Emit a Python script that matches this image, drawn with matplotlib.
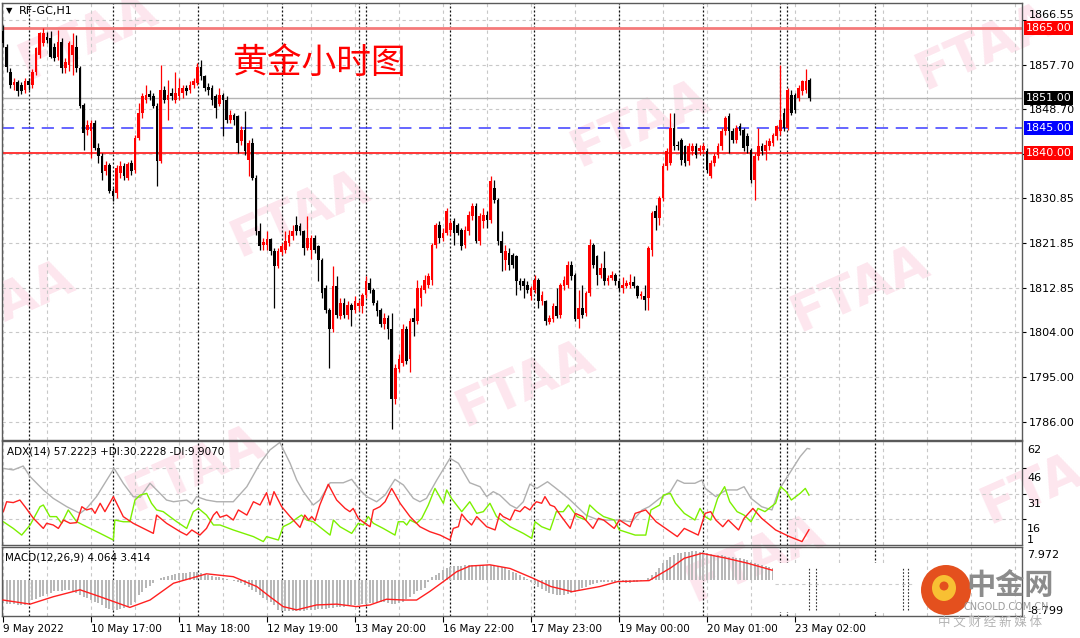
import matplotlib.pyplot as plt
from matplotlib.patches import Rectangle, Ellipse

W, H = 1080, 638

# ---- price data (H1 bars, RF-GC) ----
opens = [
    1864.5, 1861.3, 1856.3, 1853.6, 1854.1, 1853.6, 1852.6, 1854.3, 1853.6, 1856.3,
    1859.6, 1862.0, 1863.3, 1863.0, 1861.3, 1859.3, 1862.3, 1857.0, 1857.6, 1859.6,
    1861.3, 1857.0, 1849.6, 1844.6, 1844.3, 1846.0, 1841.0, 1839.3, 1836.3, 1837.6,
    1832.3, 1832.0, 1836.0, 1837.3, 1835.0, 1838.0, 1836.6, 1843.0, 1848.0, 1850.6,
    1851.8, 1851.3, 1849.3, 1838.3, 1852.6, 1850.6, 1852.0, 1850.6, 1851.3, 1852.0,
    1853.0, 1852.6, 1853.6, 1854.0, 1857.3, 1855.3, 1853.2, 1853.0, 1851.3, 1849.8,
    1851.6, 1850.6, 1846.6, 1847.6, 1847.3, 1842.3, 1844.6, 1838.6, 1842.0, 1835.0,
    1824.3, 1821.6, 1821.6, 1822.7, 1820.3, 1817.3, 1820.1, 1820.6, 1821.9, 1823.3,
    1825.6, 1825.3, 1824.3, 1820.9, 1820.6, 1823.0, 1821.3, 1818.6, 1812.9, 1808.6,
    1804.6, 1813.3, 1807.3, 1810.0, 1807.6, 1809.6, 1808.6, 1809.3, 1809.3, 1811.6,
    1814.0, 1812.6, 1810.0, 1808.6, 1805.6, 1807.0, 1804.6, 1790.6, 1796.6, 1797.9,
    1804.6, 1798.6, 1807.0, 1806.3, 1811.0, 1812.6, 1813.6, 1814.6, 1821.6, 1825.6,
    1823.0, 1824.0, 1824.6, 1826.3, 1825.6, 1824.6, 1821.6, 1824.3, 1827.3, 1829.3,
    1822.3, 1826.3, 1827.6, 1826.6, 1833.0, 1830.6, 1822.3, 1818.6, 1819.9, 1819.6,
    1819.3, 1814.3, 1814.3, 1813.6, 1811.3, 1812.6, 1814.6, 1810.3, 1810.3, 1806.0,
    1806.6, 1809.3, 1807.6, 1813.3, 1813.6, 1817.6, 1815.6, 1806.6, 1808.9, 1807.9,
    1811.9, 1821.6, 1819.3, 1815.6, 1816.9, 1814.3, 1814.9, 1815.6, 1814.3, 1812.9,
    1813.4, 1813.6, 1814.1, 1813.3, 1811.3, 1811.4, 1810.9, 1820.6, 1828.3, 1826.9,
    1830.9, 1837.3, 1838.0, 1844.9, 1841.6, 1842.6, 1841.3, 1838.3, 1840.3, 1841.3,
    1840.3, 1840.6, 1840.3, 1835.3, 1837.9, 1839.6, 1841.3, 1844.3, 1847.3, 1844.3,
    1842.6, 1845.3, 1844.6, 1843.3, 1840.6, 1834.6, 1839.3, 1841.3, 1840.3, 1841.3,
    1841.9, 1843.3, 1844.3, 1847.9, 1845.0, 1851.6, 1851.6, 1850.9, 1852.3, 1852.6,
    1854.6]
highs = [
    1865.6, 1861.8, 1857.0, 1855.0, 1854.5, 1854.2, 1855.0, 1855.0, 1856.8, 1861.3,
    1864.3, 1865.0, 1864.3, 1864.5, 1862.0, 1864.6, 1863.0, 1859.0, 1862.5, 1864.0,
    1863.6, 1857.5, 1850.0, 1846.5, 1846.5, 1846.5, 1842.0, 1840.0, 1838.3, 1838.0,
    1833.0, 1837.6, 1838.3, 1838.0, 1838.2, 1838.6, 1843.5, 1850.0, 1852.0, 1853.6,
    1852.5, 1852.0, 1850.0, 1857.6, 1853.3, 1854.6, 1853.0, 1856.3, 1855.0, 1853.6,
    1853.6, 1854.3, 1855.0, 1858.0, 1858.6, 1855.6, 1854.0, 1853.6, 1851.8, 1853.0,
    1852.0, 1851.3, 1848.6, 1848.0, 1847.6, 1845.3, 1848.3, 1842.6, 1843.0, 1835.5,
    1826.0, 1823.0, 1824.3, 1823.0, 1821.0, 1821.0, 1822.0, 1824.3, 1824.5, 1825.6,
    1827.3, 1826.0, 1824.6, 1827.3, 1823.6, 1823.6, 1821.6, 1819.0, 1813.6, 1809.0,
    1817.3, 1815.3, 1811.0, 1811.0, 1810.3, 1810.0, 1811.3, 1810.6, 1812.0, 1815.3,
    1815.0, 1813.0, 1810.6, 1809.0, 1808.0, 1807.6, 1808.0, 1797.6, 1799.6, 1805.6,
    1805.3, 1807.0, 1808.9, 1814.6, 1813.6, 1815.6, 1816.0, 1822.0, 1826.0, 1826.3,
    1825.0, 1829.0, 1826.6, 1827.0, 1826.0, 1825.0, 1825.3, 1828.3, 1830.0, 1830.0,
    1828.0, 1829.0, 1828.3, 1835.3, 1834.6, 1831.0, 1824.3, 1821.6, 1821.0, 1820.0,
    1819.6, 1815.0, 1815.0, 1814.3, 1813.3, 1815.6, 1815.0, 1812.3, 1810.6, 1807.6,
    1810.0, 1813.0, 1814.0, 1815.3, 1818.3, 1818.3, 1816.0, 1812.6, 1813.6, 1812.3,
    1822.7, 1821.9, 1819.6, 1817.9, 1820.3, 1815.6, 1816.3, 1816.0, 1814.6, 1815.1,
    1814.6, 1815.8, 1815.4, 1813.6, 1812.3, 1813.6, 1821.3, 1828.3, 1829.6, 1831.3,
    1837.9, 1841.0, 1847.9, 1847.9, 1842.3, 1842.9, 1841.6, 1841.9, 1842.0, 1842.0,
    1841.6, 1842.0, 1841.0, 1838.6, 1840.0, 1842.0, 1845.0, 1847.3, 1847.9, 1845.0,
    1845.6, 1845.9, 1845.0, 1844.0, 1841.0, 1840.0, 1845.0, 1842.0, 1842.6, 1843.0,
    1844.0, 1845.6, 1857.6, 1849.0, 1853.0, 1852.6, 1852.0, 1853.6, 1854.6, 1856.9,
    1854.9]
lows = [
    1861.3, 1856.3, 1852.9, 1852.5, 1851.3, 1851.8, 1852.0, 1852.5, 1853.0, 1855.6,
    1859.0, 1861.5, 1862.0, 1859.0, 1858.5, 1858.6, 1856.0, 1856.0, 1856.5, 1855.6,
    1856.3, 1849.0, 1840.6, 1843.5, 1839.0, 1840.5, 1838.0, 1834.5, 1835.5, 1832.0,
    1830.3, 1831.0, 1835.0, 1834.6, 1834.6, 1835.6, 1836.0, 1842.5, 1847.0, 1850.0,
    1850.6, 1848.9, 1833.3, 1838.0, 1850.0, 1846.6, 1850.6, 1850.0, 1850.6, 1851.0,
    1851.6, 1852.0, 1853.0, 1853.6, 1854.6, 1852.3, 1851.6, 1849.6, 1847.0, 1849.3,
    1843.3, 1846.0, 1846.0, 1845.6, 1840.0, 1841.6, 1839.6, 1835.3, 1834.6, 1823.6,
    1820.6, 1820.6, 1820.6, 1819.6, 1808.9, 1817.0, 1819.6, 1820.0, 1821.3, 1822.6,
    1823.6, 1823.6, 1819.6, 1820.6, 1818.7, 1820.0, 1814.3, 1811.0, 1808.0, 1796.9,
    1804.0, 1807.0, 1806.6, 1807.0, 1806.6, 1805.3, 1808.0, 1808.3, 1808.0, 1811.0,
    1812.0, 1809.6, 1807.3, 1805.0, 1804.6, 1802.6, 1784.7, 1789.6, 1796.0, 1797.3,
    1797.6, 1796.0, 1803.3, 1805.6, 1809.3, 1812.0, 1813.0, 1813.6, 1821.0, 1822.0,
    1822.3, 1823.6, 1823.6, 1821.6, 1823.6, 1820.6, 1821.0, 1823.6, 1826.6, 1821.9,
    1821.6, 1825.0, 1825.0, 1826.0, 1830.0, 1821.6, 1816.3, 1816.6, 1816.6, 1816.9,
    1811.6, 1812.6, 1811.0, 1812.0, 1810.6, 1812.0, 1808.9, 1809.6, 1805.4, 1805.6,
    1806.0, 1806.9, 1807.0, 1812.6, 1813.0, 1814.6, 1806.3, 1804.9, 1807.0, 1807.3,
    1811.3, 1817.0, 1813.6, 1815.0, 1813.6, 1813.6, 1814.6, 1813.6, 1812.3, 1811.9,
    1812.9, 1813.0, 1812.9, 1810.9, 1810.7, 1808.6, 1808.6, 1819.3, 1824.6, 1825.6,
    1830.3, 1836.6, 1837.6, 1840.6, 1840.6, 1837.6, 1837.3, 1837.6, 1839.6, 1839.0,
    1839.6, 1840.0, 1835.9, 1834.9, 1837.3, 1839.0, 1840.6, 1843.6, 1839.9, 1842.0,
    1842.0, 1843.6, 1840.3, 1840.0, 1834.0, 1830.6, 1838.6, 1839.6, 1838.6, 1840.6,
    1841.3, 1842.6, 1843.6, 1844.3, 1844.6, 1847.6, 1848.0, 1850.3, 1851.6, 1852.0,
    1850.3]
closes = [
    1862.0, 1857.3, 1853.6, 1854.1, 1852.3, 1852.3, 1854.3, 1853.6, 1856.3, 1861.0,
    1864.0, 1864.0, 1862.7, 1859.3, 1859.0, 1862.3, 1857.0, 1858.3, 1862.0, 1861.6,
    1857.0, 1849.3, 1844.0, 1845.5, 1846.0, 1841.0, 1839.3, 1836.0, 1837.6, 1832.3,
    1831.3, 1837.0, 1837.3, 1835.3, 1837.7, 1836.3, 1843.0, 1848.0, 1851.3, 1851.6,
    1851.2, 1849.4, 1838.3, 1852.6, 1850.6, 1851.6, 1851.3, 1852.0, 1853.0, 1853.0,
    1852.3, 1853.6, 1854.3, 1857.3, 1855.3, 1853.0, 1852.5, 1850.6, 1849.0, 1851.6,
    1850.6, 1846.6, 1847.6, 1846.6, 1842.0, 1844.6, 1840.3, 1842.0, 1835.0, 1824.3,
    1821.3, 1822.1, 1822.7, 1820.3, 1817.3, 1820.3, 1821.3, 1822.3, 1823.6, 1824.3,
    1824.3, 1824.3, 1820.9, 1822.9, 1823.0, 1820.6, 1818.6, 1811.9, 1808.6, 1804.6,
    1813.3, 1807.6, 1810.0, 1807.6, 1809.6, 1808.6, 1810.3, 1810.0, 1811.6, 1814.3,
    1812.6, 1810.0, 1808.3, 1805.6, 1807.0, 1804.6, 1790.6, 1796.9, 1798.6, 1804.6,
    1798.3, 1806.3, 1806.0, 1812.9, 1812.9, 1814.6, 1815.3, 1821.6, 1825.6, 1823.0,
    1824.0, 1828.3, 1826.0, 1824.0, 1824.0, 1821.3, 1824.6, 1827.6, 1829.3, 1822.3,
    1827.3, 1827.6, 1826.6, 1834.3, 1830.6, 1822.3, 1819.9, 1820.3, 1817.6, 1817.6,
    1814.3, 1813.6, 1813.3, 1812.6, 1812.9, 1814.6, 1810.3, 1811.6, 1806.3, 1807.0,
    1809.3, 1807.3, 1813.6, 1814.6, 1817.6, 1815.3, 1806.7, 1808.9, 1807.6, 1811.9,
    1821.6, 1817.6, 1815.6, 1816.9, 1814.3, 1814.9, 1815.6, 1814.3, 1812.9, 1813.6,
    1813.9, 1814.1, 1813.3, 1811.3, 1811.8, 1810.6, 1820.9, 1827.9, 1826.9, 1830.9,
    1837.3, 1840.3, 1844.9, 1841.3, 1841.3, 1838.6, 1837.9, 1841.3, 1841.3, 1839.6,
    1840.9, 1841.3, 1836.6, 1837.9, 1839.3, 1841.3, 1844.3, 1846.9, 1844.3, 1842.6,
    1844.9, 1844.3, 1840.9, 1841.3, 1834.6, 1839.3, 1841.3, 1840.3, 1841.6, 1842.3,
    1843.6, 1845.3, 1846.6, 1844.9, 1852.6, 1848.0, 1848.6, 1852.9, 1854.3, 1854.3,
    1851.0]

# ---- ADX(14) lines, (bar, value) ----
adx_pts = [(0.1, 45.8), (2.8, 44.9), (5.5, 47.2), (7.4, 41.0), (11, 33.2), (13.7, 28.3),
           (17.4, 23.4), (21, 19.5), (22.8, 22.4), (25.5, 29.3), (28.3, 39.0), (30.3, 45.8),
           (32.8, 37.1), (35.5, 29.3), (37.4, 28.9), (40.1, 37.1), (41.9, 33.2), (44.6, 27.3),
           (46.5, 26.3), (50.1, 27.3), (51.5, 25.0), (52.8, 29.3), (55.5, 27.3), (58.3, 26.3),
           (62.8, 26.3), (66.5, 35.1), (70.1, 48.8), (72.8, 56.6), (75.5, 61.0), (78.3, 48.8),
           (80.1, 39.0), (81.9, 32.2), (84.6, 24.4), (86.4, 27.3), (89.2, 37.4), (92.8, 37.4),
           (95.1, 39.4), (97.3, 33.2), (99.2, 29.3), (101.9, 26.3), (104.2, 30.2), (106.9, 39.4),
           (109.2, 36.1), (111.9, 28.3), (113.7, 26.3), (115.5, 28.3), (118.3, 39.0), (121.9, 51.7),
           (124.2, 48.8), (127.3, 37.4), (130.1, 35.1), (131.9, 29.3), (133.7, 32.2), (135.5, 30.2),
           (138.3, 24.4), (140.1, 22.4), (141.9, 26.3), (143.7, 36.6), (145.6, 34.1), (148.5, 38.0),
           (151.4, 33.2), (154.2, 28.3), (156.1, 24.4), (159, 18.5), (161.9, 16.0), (164.3, 15.6),
           (167.6, 15.6), (171.5, 14.6), (174.3, 21.5), (176.2, 23.4), (179.1, 28.3), (182, 32.2),
           (183.9, 39.0), (185.8, 37.1), (188.7, 37.1), (190.6, 39.0), (191.5, 34.1), (194.4, 29.3),
           (197.3, 33.2), (200.2, 33.2), (202.1, 35.1), (204, 28.3), (206.9, 23.4), (209.7, 21.5),
           (211.6, 33.2), (214.5, 42.9), (217.4, 52.7), (219.3, 57.5), (220, 57.2)]

plus_di_pts = [(0.1, 14.6), (2.8, 10.7), (5.1, 6.8), (7.4, 12.7), (10.1, 23.4), (11, 24.4),
               (12.8, 17.6), (14.6, 17.6), (16, 13.7), (17.8, 21.5), (20.1, 14.6), (22.8, 11.7),
               (26.5, 7.8), (30.1, 3.9), (30.5, 15.6), (32.8, 14.6), (34.6, 14.6), (36, 27.3),
               (37.4, 30.2), (39.2, 31.2), (40.5, 25.4), (41.9, 21.5), (43.7, 20.5), (45.5, 17.6),
               (47.4, 14.6), (50.1, 10.7), (51.9, 20.5), (53.3, 22.4), (55.5, 18.5), (57.4, 12.7),
               (59.2, 12.7), (62.8, 9.8), (68.3, 5.9), (71, 3.0), (71.9, 5.9), (75.1, 3.9),
               (76.4, 11.7), (78.3, 13.7), (80.1, 16.6), (81.4, 18.5), (82.8, 15.6), (84.6, 14.6),
               (89.2, 6.8), (90.1, 15.6), (91.9, 11.7), (95.1, 7.8), (96.9, 13.7), (98.3, 12.7),
               (99.6, 17.6), (101, 13.7), (103.7, 10.7), (106.9, 6.8), (107.8, 14.6), (109.2, 14.6),
               (110.1, 12.7), (111, 15.6), (112.8, 13.7), (114.2, 16.6), (116, 24.4), (117.8, 34.1),
               (120.1, 25.4), (121, 33.2), (122.3, 28.3), (125.1, 20.5), (127.3, 26.3), (129.2, 19.5),
               (131, 20.5), (132.8, 25.4), (134.6, 17.6), (138.3, 11.7), (141.9, 7.8), (144.2, 4.9),
               (145.1, 14.6), (146.9, 11.7), (149.2, 9.8), (150.9, 20.5), (152.8, 20.5), (154.2, 24.4),
               (156.6, 17.6), (159, 15.6), (160, 24.4), (161.9, 20.5), (163.8, 17.6), (166.7, 15.6),
               (168.1, 9.8), (172.4, 6.8), (175.3, 6.8), (176.7, 21.5), (179.1, 24.4), (180.1, 30.2),
               (182, 31.2), (183.4, 25.4), (185.8, 19.5), (188.7, 15.6), (190.1, 22.4), (191.5, 17.6),
               (193, 15.6), (194.9, 28.3), (196.8, 35.1), (198.2, 26.3), (200.2, 20.5), (202.1, 18.5),
               (204, 14.6), (205.9, 22.4), (207.8, 20.5), (210.7, 25.4), (212.1, 35.1), (213.6, 32.2),
               (215, 27.3), (217.4, 31.2), (218.8, 34.1), (219.8, 30.2)]

minus_di_pts = [(0.1, 20.5), (1.0, 26.3), (2.8, 25.8), (4.6, 27.3), (6.0, 23.4), (8.3, 16.6),
                (11.0, 10.7), (11.9, 13.7), (13.7, 12.7), (15.1, 10.7), (16.5, 15.6), (18.3, 13.7),
                (20.1, 14.1), (21.5, 23.4), (22.8, 21.5), (24.2, 22.4), (25.1, 19.5), (26.5, 25.4),
                (27.8, 20.5), (30.1, 29.3), (32.8, 17.6), (35.5, 13.7), (38.3, 10.7), (41.0, 7.8),
                (41.9, 18.5), (44.6, 13.7), (48.3, 8.8), (50.1, 6.8), (51.5, 9.8), (53.7, 6.8),
                (55.5, 10.7), (57.4, 18.5), (58.3, 20.5), (59.2, 17.2), (61.0, 18.5), (62.8, 15.6),
                (64.2, 21.5), (66.5, 18.5), (68.3, 26.3), (70.1, 24.4), (71.9, 31.6), (72.8, 24.4),
                (73.9, 32.2), (76.0, 23.4), (78.3, 17.6), (81.0, 11.3), (82.3, 18.5), (83.3, 15.6),
                (84.2, 17.6), (85.1, 15.2), (86.4, 24.4), (88.7, 36.5), (91.0, 27.3), (93.3, 22.4),
                (94.6, 20.5), (95.5, 22.4), (96.9, 16.6), (98.7, 13.7), (100.1, 11.7), (101.0, 21.5),
                (102.8, 23.4), (104.2, 26.3), (106.0, 34.1), (108.3, 25.4), (111.0, 17.6), (113.7, 11.7),
                (116.4, 8.8), (119.2, 6.8), (121.9, 3.9), (122.8, 10.7), (124.2, 11.7), (125.1, 19.1),
                (126.4, 15.6), (127.8, 12.7), (129.2, 17.6), (131.9, 11.7), (134.2, 9.8), (135.5, 19.5),
                (136.4, 17.6), (138.3, 15.6), (139.6, 21.5), (141.0, 20.5), (142.3, 23.4), (143.7, 21.5),
                (144.6, 24.4), (145.5, 26.3), (146.9, 25.4), (147.8, 29.3), (149.2, 24.4), (150.4, 23.4),
                (152.3, 17.6), (154.7, 10.7), (156.1, 19.5), (158.1, 17.6), (160.9, 10.7), (162.4, 16.6),
                (163.8, 15.6), (166.7, 10.7), (168.1, 15.6), (171.0, 11.7), (172.4, 19.5), (175.3, 21.5),
                (178.1, 14.6), (183.9, 5.9), (185.8, 10.7), (189.6, 6.8), (191.5, 19.5), (193.0, 20.5),
                (194.4, 15.6), (196.3, 11.7), (197.8, 15.6), (200.6, 9.8), (202.1, 16.6), (204.5, 22.4),
                (206.9, 16.6), (210.7, 9.8), (214.5, 5.9), (217.9, 3.0), (219.8, 9.9)]

# ---- MACD(12,26,9): histogram per bar, signal line points ----
macd_hist = [
    -5.7, -5.8, -5.8, -5.9, -6.0, -6.1, -6.0, -5.7, -5.0, -4.6,
    -4.1, -3.8, -3.4, -3.1, -2.8, -2.7, -2.6, -2.5, -2.4, -2.8,
    -3.2, -3.7, -4.1, -4.5, -4.9, -5.3, -5.7, -6.1, -6.9, -7.1,
    -7.3, -7.3, -7.2, -6.9, -6.5, -6.0, -5.3, -3.7, -2.9, -2.0,
    -1.4, -0.8, 0.0, 0.4, 0.8, 1.0, 1.2, 1.4, 1.6, 1.7,
    1.8, 1.9, 2.0, 1.9, 1.8, 1.5, 1.2, 1.0, 0.8, 0.6,
    0.4, 0.2, 0.0, -0.2, -0.4, -0.8, -1.2, -1.8, -2.4, -3.0,
    -3.7, -4.3, -4.9, -5.5, -6.1, -7.3, -7.5, -7.6, -7.7, -7.6,
    -7.6, -7.5, -7.5, -7.4, -7.3, -7.3, -7.2, -7.1, -7.0, -6.9,
    -6.8, -6.7, -6.6, -6.5, -6.4, -6.2, -6.1, -6.0, -5.9, -5.8,
    -5.7, -5.6, -5.6, -5.5, -5.5, -5.7, -5.8, -5.9, -5.6, -5.3,
    -4.7, -4.1, -3.4, -2.8, -2.4, -2.0, -0.4, 0.8, 1.2, 1.6,
    2.4, 2.8, 3.1, 3.3, 3.4, 3.5, 3.6, 3.7, 3.7, 3.7,
    3.7, 3.7, 3.6, 3.6, 3.5, 3.5, 3.1, 2.8, 2.4, 2.0,
    1.6, 1.1, 0.65, 0.2, -0.4, -1.0, -1.6, -2.2, -2.8, -3.2,
    -3.5, -3.7, -3.7, -3.6, -3.4, -3.1, -2.85, -2.4, -2.0, -1.6,
    -1.3, -1.0, -0.8, -0.6, -0.5, -0.4, -0.4, -0.4, -0.4, -0.5,
    -0.7, -0.8, -0.6, -0.4, -0.2, 0.1, 0.4, 1.2, 2.0, 3.0,
    4.1, 4.9, 5.7, 6.1, 6.5, 6.7, 6.8, 6.9, 7.0, 7.0,
    6.9, 6.8, 6.5, 6.4, 6.2, 6.1, 6.0, 5.9, 5.7, 5.6,
    5.4, 5.3, 5.0, 4.8, 4.5, 4.2, 4.0, 3.7, 3.4, 3.1,
    2.85, 2.7, 2.7, 2.9, 3.2, 3.4, 3.6, 3.8, 3.9, 4.0,
    4.06]
macd_signal_pts = [(0, -4.9), (7.4, -5.9), (13.7, -4.1), (21, -2.4), (26.5, -4.1), (34.6, -6.7),
                   (40.1, -4.9), (46.5, -0.8), (55.5, 1.5), (62.8, 0.8), (69.2, -1.6), (72.8, -4.1),
                   (76.4, -6.5), (80.1, -7.3), (85.5, -6.1), (91, -5.9), (96.4, -6.5), (100.1, -6.1),
                   (104.6, -4.7), (109.2, -4.9), (112.8, -4.9), (116.4, -2.8), (120.1, -0.4),
                   (123.7, 2.0), (127.3, 3.4), (132.8, 3.7), (138.3, 2.8), (144.6, 0.4), (149.4, -1.6),
                   (155.2, -2.85), (162.8, -1.6), (167.6, -0.4), (176.2, -0.16), (182, 2.9),
                   (185.8, 5.3), (190.6, 6.5), (197.3, 5.3), (203, 4.1), (209.7, 2.4), (215, 2.8),
                   (220, 3.414)]

price_ticks = [1866.55, 1857.70, 1848.70, 1839.70, 1830.85, 1821.85, 1812.85, 1804.00, 1795.00, 1786.00]
price_labels = ['1866.55', '1857.70', '1848.70', '', '1830.85', '1821.85', '1812.85',
                '1804.00', '1795.00', '1786.00']
levels = [(1865.00, '#ff0000'), (1851.00, '#000000'), (1845.00, '#0000ff'), (1840.00, '#ff0000')]
adx_grid = [46, 31, 16]
adx_labels = [('62', 450), ('46', 478), ('31', 504), ('16', 529), ('1', 540)]
macd_labels = [('7.972', 555), ('-8.799', 611)]
date_labels = ['9 May 2022', '10 May 17:00', '11 May 18:00', '12 May 19:00', '13 May 20:00',
               '16 May 22:00', '17 May 23:00', '19 May 00:00', '20 May 01:00', '23 May 02:00']
separators = [7.1, 30.0, 53.2, 76.1, 97.1, 99.0, 121.9, 144.8, 168.0, 190.9, 211.9, 213.8, 237.8]

CJK = ['Noto Sans CJK SC', 'DejaVu Sans']


def px_rect(x0, y0, x1, y1):
    return [x0 / W, 1 - y1 / H, (x1 - x0) / W, (y1 - y0) / H]


def ftext(x, y, s, **kw):
    return fig.text(x / W, 1 - y / H, s, **kw)


fig = plt.figure(figsize=(W / 100, H / 100), dpi=100)
fig.patch.set_facecolor('white')

ax = fig.add_axes(px_rect(2, 3, 1022, 440))
ax_adx = fig.add_axes(px_rect(2, 440.7, 1022, 545), sharex=ax)
ax_macd = fig.add_axes(px_rect(2, 547.3, 1022, 616), sharex=ax)

# faint watermarks behind everything
for (wx, wy) in [(88, 38), (300, 215), (5, 305), (525, 385), (640, 125), (860, 290),
                 (985, 48), (195, 470), (755, 560), (1050, 482)]:
    ftext(wx, wy, 'FTAA', fontsize=37, fontweight='bold', color='#fde6ee',
          rotation=24, ha='center', va='center', zorder=-1)

for a in (ax, ax_adx, ax_macd):
    a.set_facecolor('none')
    for s in a.spines.values():
        s.set_color('#5a5a5a')
        s.set_linewidth(1.0)
    for g in range(0, 278, 12):
        a.axvline(g, color='#c8c8c8', lw=0.8, ls=(0, (3, 3)), zorder=0)
    for sp in separators:
        a.axvline(sp, color='#111111', lw=0.9, ls=(0, (1.6, 1.6)), zorder=0.5)
    a.tick_params(axis='x', bottom=False, labelbottom=False)
    a.yaxis.tick_right()
    a.tick_params(axis='y', labelsize=8, length=3, width=0.8, pad=2, colors='#000000')

xs = list(range(len(closes)))
ax.set_xlim(-0.27, 277.9)

# ---- price panel ----
for t in price_ticks:
    ax.axhline(t, color='#c8c8c8', lw=0.8, ls=(0, (3, 3)), zorder=0)
ax.axhline(1851.00, color='#b4b4b4', lw=1.0, zorder=1)
ax.axhline(1865.00, color='#f47a7a', lw=2.0, zorder=1)
ax.axhline(1845.00, color='#3c3cff', lw=1.1, ls=(0, (8, 5)), zorder=1)
ax.axhline(1840.00, color='#ff0000', lw=1.1, zorder=1)

cols = ['#ff0000' if c >= o else '#000000' for o, c in zip(opens, closes)]
ax.vlines(xs, lows, highs, colors=cols, lw=0.9, zorder=2)
bottoms = [min(o, c) for o, c in zip(opens, closes)]
heights = [max(abs(c - o), 0.25) for o, c in zip(opens, closes)]
ax.bar(xs, heights, bottom=bottoms, width=0.72, color=cols, lw=0, zorder=3)

ax.set_ylim(1782.45, 1870.03)
ax.set_yticks(price_ticks, labels=price_labels)
ax.get_yticklabels()[0].set_va('bottom')
for lv, c in levels:
    ax.text(1.0035, lv, '%.2f' % lv, transform=ax.get_yaxis_transform(), ha='left', va='center',
            fontsize=8, color='white', clip_on=False, zorder=6,
            bbox=dict(boxstyle='square,pad=0.15', fc=c, ec='none'))

ftext(6, 11, '\u25bc', fontsize=6, va='center', ha='left')
ftext(19, 11, 'RF-GC,H1', fontsize=8, va='center', ha='left')
ftext(232, 63, '黄金小时图', fontsize=25, color='#ff0000', va='center', ha='left', family=CJK)

# ---- ADX panel ----
for t in adx_grid:
    ax_adx.axhline(t, color='#c8c8c8', lw=0.8, ls=(0, (3, 3)), zorder=0)
ax_adx.plot([p[0] for p in adx_pts], [p[1] for p in adx_pts], color='#b0b0b0', lw=1.0, zorder=2)
ax_adx.plot([p[0] for p in plus_di_pts], [p[1] for p in plus_di_pts], color='#7cf000', lw=1.0, zorder=2)
ax_adx.plot([p[0] for p in minus_di_pts], [p[1] for p in minus_di_pts], color='#ff2020', lw=1.0, zorder=2)
ax_adx.set_ylim(1, 62)
ax_adx.set_yticks(adx_grid, labels=['', '', ''])
for s, y in adx_labels:
    ftext(1027, y, s, fontsize=8, va='center', ha='left')
ftext(7, 451, 'ADX(14) 57.2223 +DI:30.2228 -DI:9.9070', fontsize=7.5, va='center', ha='left')

# ---- MACD panel ----
ax_macd.bar(xs, macd_hist, width=0.6, color='#b8b8b8', lw=0, zorder=2)
ax_macd.plot([p[0] for p in macd_signal_pts], [p[1] for p in macd_signal_pts], color='#ff2020', lw=1.0, zorder=3)
ax_macd.set_ylim(-8.799, 7.972)
ax_macd.set_yticks([], labels=[])
for s, y in macd_labels:
    ftext(1027, y, s, fontsize=8, va='center', ha='left')
ftext(5, 557, 'MACD(12,26,9) 4.064 3.414', fontsize=7.5, va='center', ha='left')

ax_macd.set_xticks(range(0, 217, 24), labels=date_labels)
ax_macd.tick_params(axis='x', bottom=True, labelbottom=True, length=4, width=0.8,
                    labelsize=7.5, pad=2, colors='#000000')
for lbl in ax_macd.get_xticklabels():
    lbl.set_ha('left')

# ---- pasted logo block over the lower right ----
fig.patches.append(Rectangle((773 / W, 1 - 612 / H), 142 / W, 49 / H, transform=fig.transFigure,
                             fc='white', ec='none', zorder=5))
for lx in (809, 816, 903, 908):
    fig.add_artist(plt.Line2D([lx / W, lx / W], [1 - 610 / H, 1 - 568 / H], transform=fig.transFigure,
                              color='#333333', lw=0.8, ls=(0, (1.5, 1.5)), zorder=5.5))
fig.add_artist(plt.Line2D([775 / W, 913 / W], [1 - 584 / H, 1 - 584 / H], transform=fig.transFigure,
                          color='#cccccc', lw=0.8, ls=(0, (3, 3)), zorder=5.5))
fig.patches.append(Ellipse((946 / W, 1 - 590 / H), 50 / W, 50 / H, transform=fig.transFigure,
                           fc='#e4501e', ec='none', zorder=6))
fig.patches.append(Ellipse((944 / W, 1 - 588 / H), 24 / W, 26 / H, transform=fig.transFigure,
                           fc='#f8c033', ec='none', zorder=7))
fig.patches.append(Ellipse((944 / W, 1 - 586 / H), 9 / W, 9 / H, transform=fig.transFigure,
                           fc='#e4501e', ec='none', zorder=8))
ftext(1010, 585, '中金网', fontsize=21, color='#8c8c8c', fontweight='bold', ha='center', va='center',
      family=CJK, zorder=9)
ftext(1006, 607, 'CNGOLD.COM.CN', fontsize=7, color='#9a9a9a', ha='center', va='center', zorder=9)
ftext(990, 622, '中 文 财 经 新 媒 体', fontsize=9, color='#b4b4b4', ha='center', va='center',
      family=CJK, zorder=9)

fig.savefig('out.png', dpi=100, facecolor='white')
